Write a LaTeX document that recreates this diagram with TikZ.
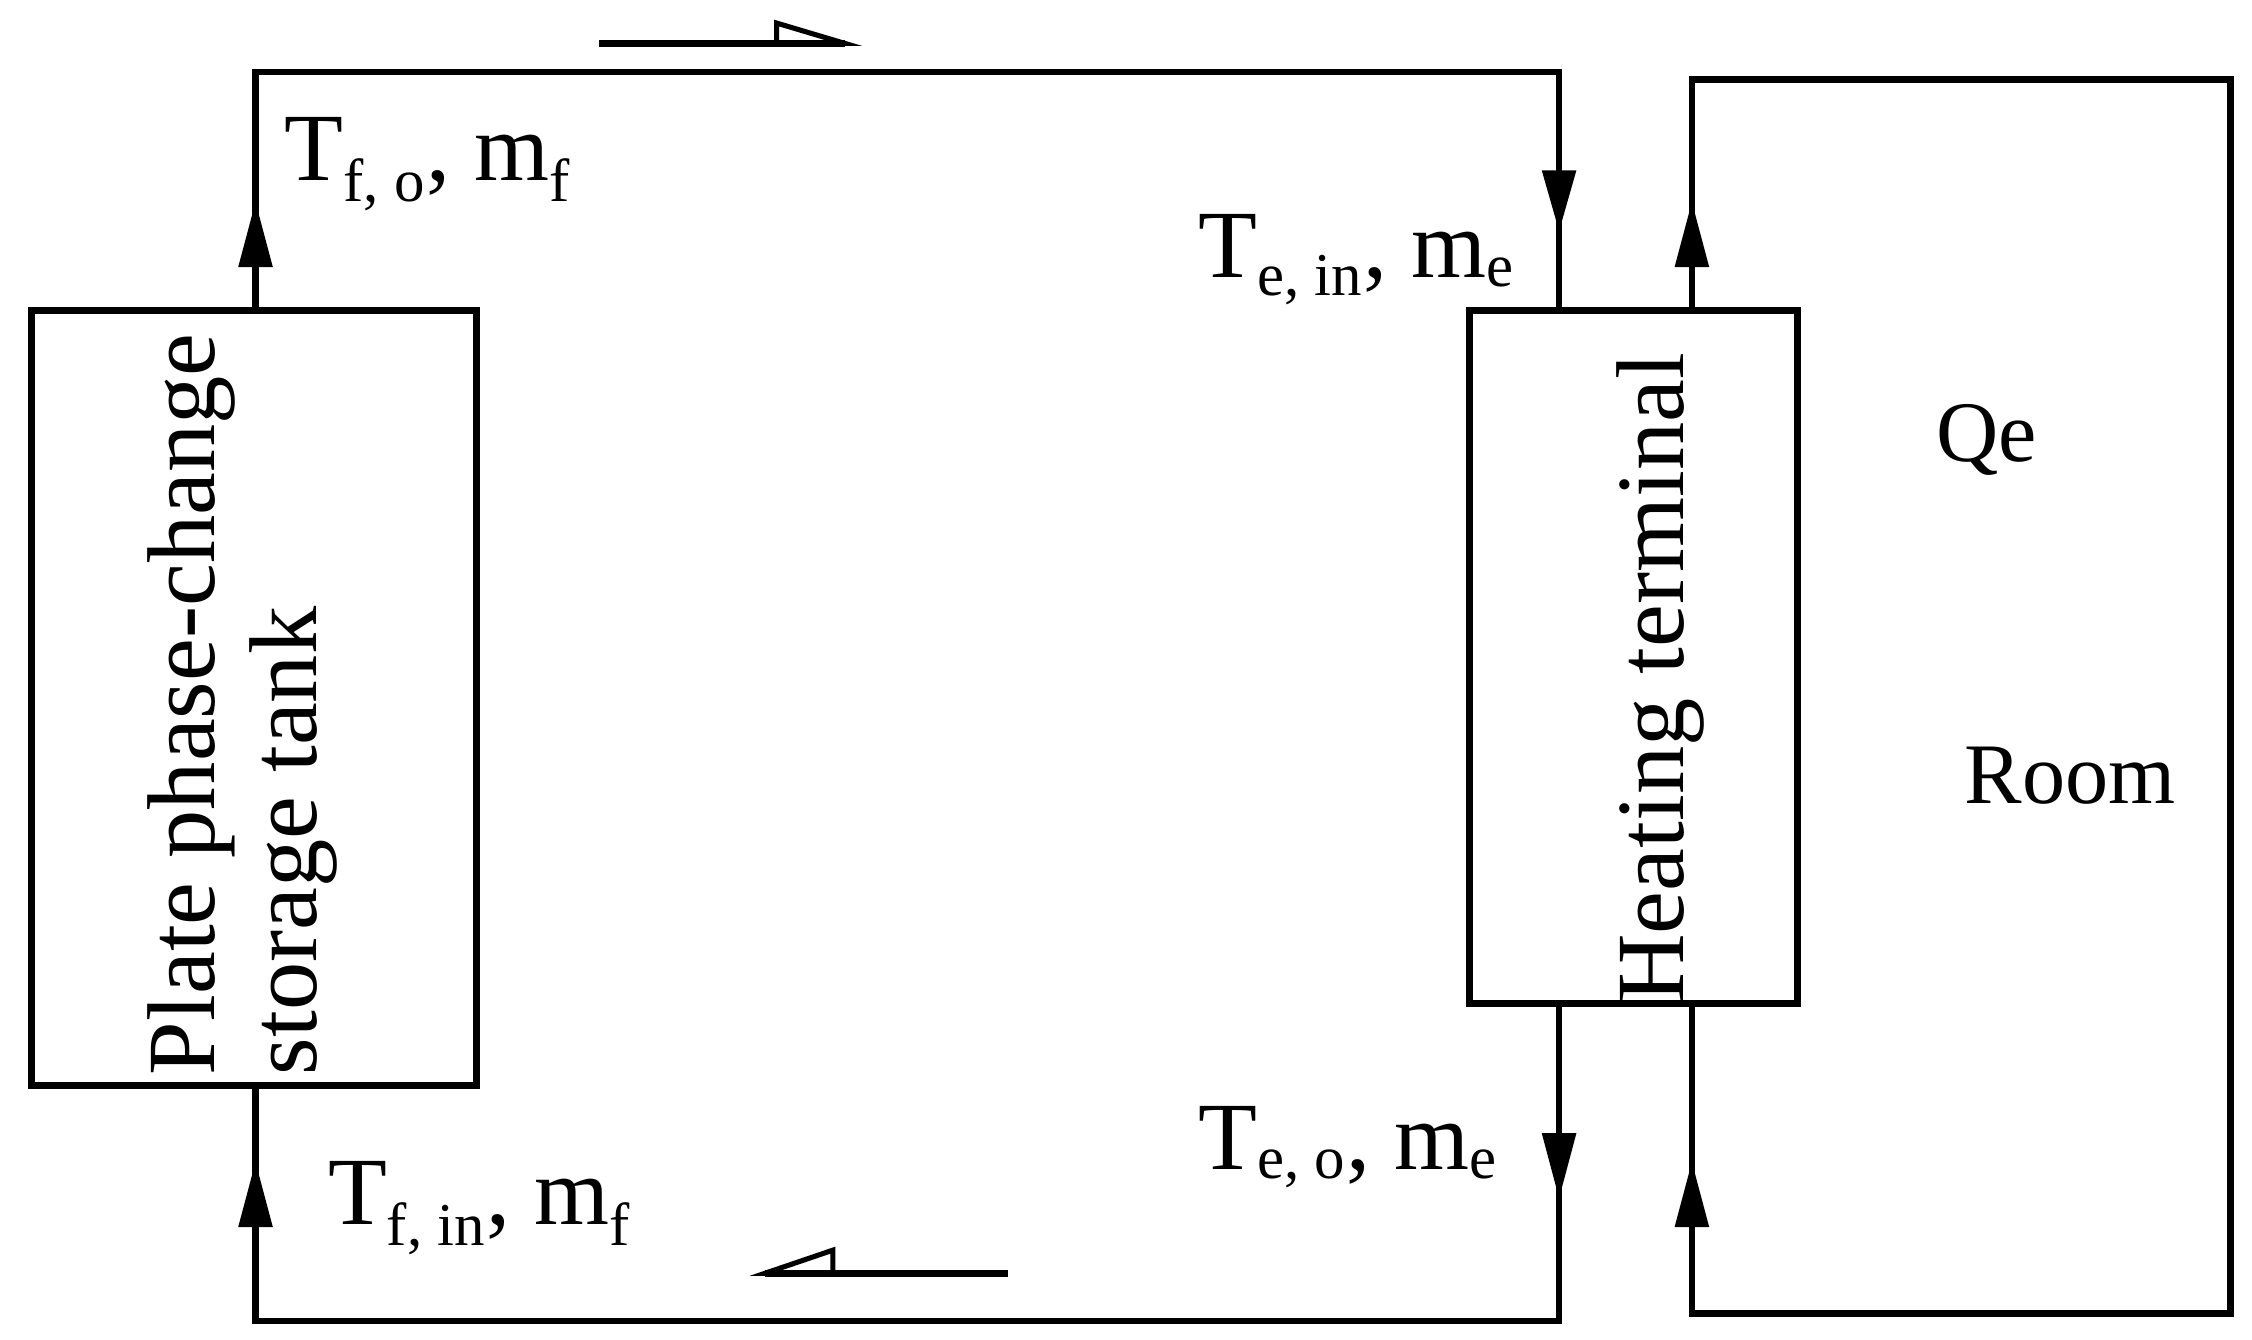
\documentclass[tikz,border=0pt]{standalone}
\usepackage{fontspec}
\setmainfont{Liberation Serif}
\begin{document}
\begin{tikzpicture}[x=0.02cm,y=-0.02cm,line width=2.6pt,
  big/.style={font=\fontsize{38}{44}\selectfont,inner sep=0pt},
  mid/.style={font=\fontsize{34}{40}\selectfont,inner sep=0pt},
  tri/.style={fill=black,draw=none}]
\useasboundingbox (0,0) rectangle (1560,928);
% boxes
\draw (22,215) rectangle (330,752);
\draw (1018,215) rectangle (1245,695);
% loops
\draw (177,215) -- (177,50) -- (1080,50) -- (1080,215);
\draw (1080,695) -- (1080,915) -- (177,915) -- (177,752);
\draw (1172,215) -- (1172,55) -- (1545,55) -- (1545,910) -- (1172,910) -- (1172,695);
% flow arrowheads
\fill (177,140) -- (165,185) -- (189,185) -- cycle;
\fill (1080,160) -- (1068,118) -- (1092,118) -- cycle;
\fill (1172,140) -- (1160,185) -- (1184,185) -- cycle;
\fill (1080,830) -- (1068,785) -- (1092,785) -- cycle;
\fill (1172,805) -- (1160,850) -- (1184,850) -- cycle;
\fill (177,805) -- (165,850) -- (189,850) -- cycle;
% direction arrows
\draw (415,30) -- (585,30);
\draw[line width=2pt] (538,16) -- (585,30) -- (538,30) -- cycle;
\draw (530,882) -- (698,882);
\draw[line width=2pt] (577,866) -- (530,882) -- (577,882) -- cycle;
% labels
\node[big,anchor=base west] (l1) at (195,125) {T\textsubscript{\fontsize{24}{26}\selectfont f, o}, m\textsubscript{\fontsize{24}{26}\selectfont f}};
\node[big,anchor=base west] (l2) at (828,192) {T\textsubscript{\fontsize{24}{26}\selectfont e, in}, m\textsubscript{\fontsize{24}{26}\selectfont e}};
\node[big,anchor=base west] (l3) at (828,810) {T\textsubscript{\fontsize{24}{26}\selectfont e, o}, m\textsubscript{\fontsize{24}{26}\selectfont e}};
\node[big,anchor=base west] (l4) at (225,848) {T\textsubscript{\fontsize{24}{26}\selectfont f, in}, m\textsubscript{\fontsize{24}{26}\selectfont f}};
\node[big,rotate=90,align=left,font=\fontsize{38}{40}\selectfont] (t1) at (168,488) {Plate phase-change\\storage tank};
\node[big,rotate=90] (t2) at (1150,470) {Heating terminal};
\node[mid] (q) at (1376,305) {Qe};
\node[mid] (r) at (1434,537) {Room};
\end{tikzpicture}
\end{document}
